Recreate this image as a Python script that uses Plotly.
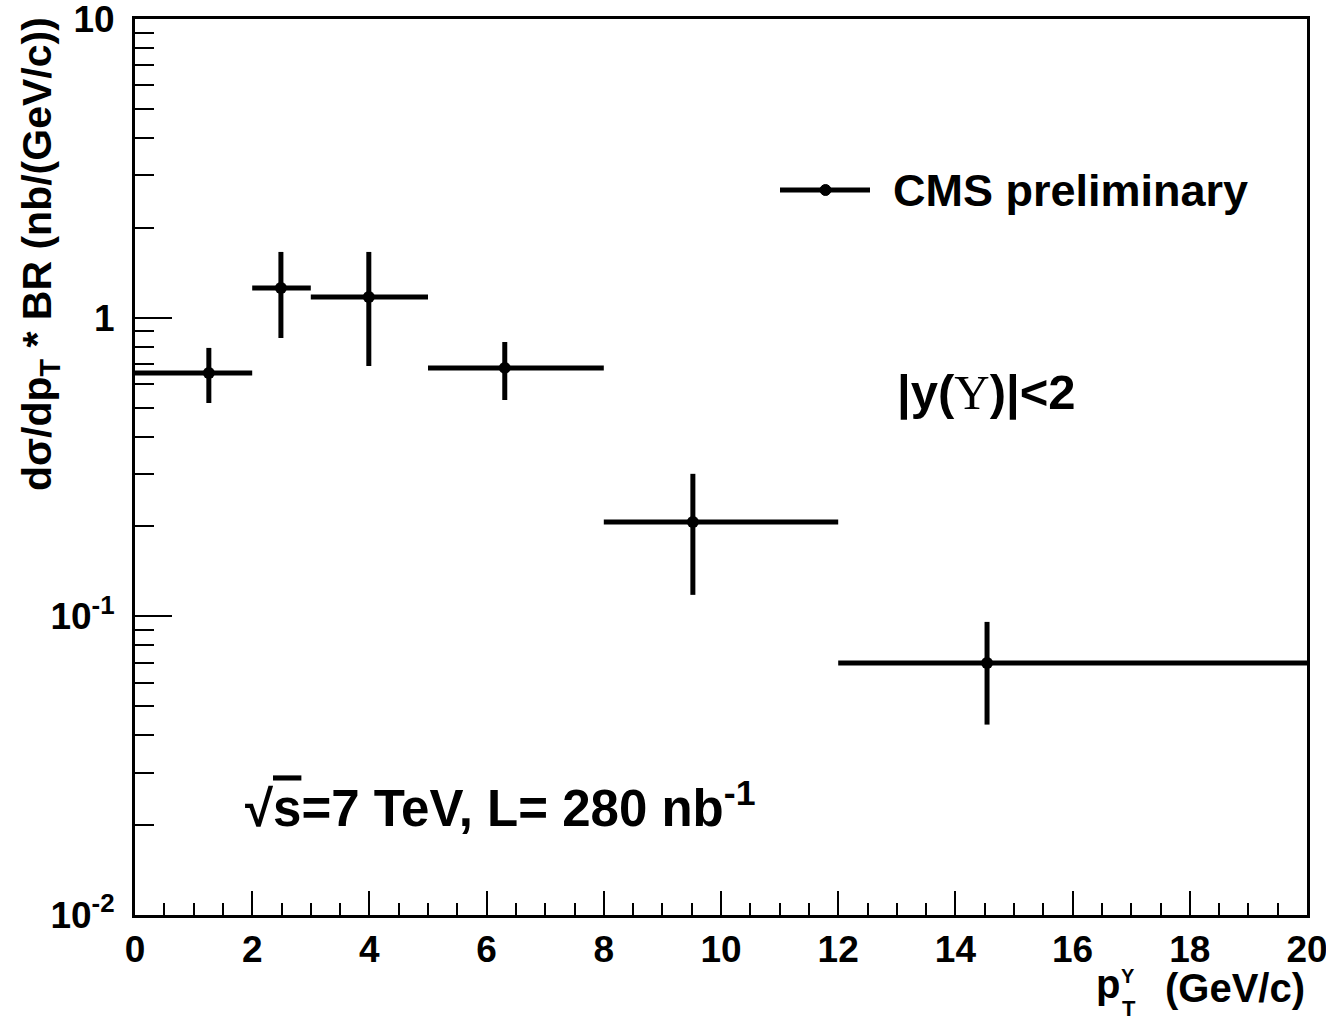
import plotly.graph_objects as go

# ---- data ----
bin_lo = [0, 2, 3, 5, 8, 12]
bin_hi = [2, 3, 5, 8, 12, 20]
pt_mean = [1.26, 2.49, 3.99, 6.31, 9.52, 14.54]
xsec = [0.653, 1.257, 1.173, 0.679, 0.207, 0.0698]
xsec_hi = [0.792, 1.66, 1.66, 0.829, 0.300, 0.0958]
xsec_lo = [0.518, 0.855, 0.689, 0.530, 0.118, 0.0434]

ytick_vals = [0.01, 0.1, 1, 10]
ytick_text = ["10<sup>-2</sup>", "10<sup>-1</sup>", "1", "10"]

FONT = "Liberation Sans"
W, H = 1326, 1017
L, R, T, B = 135, 1307, 19, 915


def xp(px):
    return (px - L) / (R - L)


def yp(py):
    return (B - py) / (B - T)


fig = go.Figure()
fig.add_trace(go.Scatter(
    x=pt_mean, y=xsec, mode="markers",
    marker=dict(color="black", size=12),
    error_x=dict(type="data", symmetric=False,
                 array=[h - x for h, x in zip(bin_hi, pt_mean)],
                 arrayminus=[x - l for l, x in zip(bin_lo, pt_mean)],
                 thickness=5, width=0, color="black"),
    error_y=dict(type="data", symmetric=False,
                 array=[h - y for h, y in zip(xsec_hi, xsec)],
                 arrayminus=[y - l for l, y in zip(xsec_lo, xsec)],
                 thickness=5, width=0, color="black"),
    name="CMS preliminary", showlegend=False,
))

minor_y = [m * 10 ** e for e in range(-2, 1) for m in range(2, 10)]

fig.update_layout(
    width=W, height=H,
    margin=dict(l=L, r=W - R, t=T, b=H - B, pad=0),
    plot_bgcolor="white", paper_bgcolor="white",
    font=dict(family=FONT, color="black", weight="bold"),
    xaxis=dict(range=[0, 20], showline=True, linecolor="black", linewidth=3,
               mirror=True, ticks="inside", ticklen=24, tickwidth=2,
               tickcolor="black", tick0=0, dtick=2, showgrid=False,
               zeroline=False, ticklabelstandoff=0, ticklabeloverflow="allow",
               automargin=False,
               tickfont=dict(size=37, family=FONT, weight="bold"),
               minor=dict(dtick=0.5, ticks="inside", ticklen=12,
                          tickwidth=2, tickcolor="black", showgrid=False)),
    yaxis=dict(type="log", range=[-2, 1], showline=True, linecolor="black",
               linewidth=3, mirror=True, ticks="inside", ticklen=37,
               tickwidth=2, tickcolor="black", tickvals=ytick_vals,
               ticktext=ytick_text, showgrid=False, zeroline=False,
               ticklabelstandoff=10, ticklabeloverflow="allow",
               automargin=False,
               tickfont=dict(size=37, family=FONT, weight="bold"),
               minor=dict(tickvals=minor_y, ticks="inside", ticklen=19,
                          tickwidth=2, tickcolor="black", showgrid=False)),
)

ann = []
# y-axis title
ann.append(dict(text="dσ/dp<sub>T</sub> * BR (nb/(GeV/c))", textangle=-90,
                x=xp(40), y=yp(15), xanchor="center", yanchor="top",
                font=dict(size=41, family=FONT, weight="bold")))
# x-axis title pieces
ann.append(dict(text="(GeV/c)", x=xp(1307), y=yp(988), xanchor="right",
                yanchor="middle", font=dict(size=40, family=FONT, weight="bold")))
ann.append(dict(text="p", x=xp(1122), y=yp(984), xanchor="right",
                yanchor="middle", font=dict(size=40, family=FONT, weight="bold")))
ann.append(dict(text="Υ", x=xp(1128), y=yp(976), xanchor="center",
                yanchor="middle", font=dict(size=20, family=FONT, weight="bold")))
ann.append(dict(text="T", x=xp(1129), y=yp(1008), xanchor="center",
                yanchor="middle", font=dict(size=22, family=FONT, weight="bold")))
# legend text
ann.append(dict(text="CMS preliminary", x=xp(891), y=yp(190), xanchor="left",
                yanchor="middle", font=dict(size=45, family=FONT, weight="bold")))
# rapidity text
ann.append(dict(text="|y(<span style='font-family:Liberation Serif;font-weight:normal'>Υ</span>)|<2",
                x=xp(895), y=yp(392), xanchor="left", yanchor="middle",
                font=dict(size=49, family=FONT, weight="bold")))
# energy / lumi text
ann.append(dict(text="√<span style='text-decoration:overline'>s</span>=7 TeV, L= 280 nb<sup>-1</sup>",
                x=xp(243), y=yp(805), xanchor="left", yanchor="middle",
                font=dict(size=51, family=FONT, weight="bold")))
for a in ann:
    a.update(xref="paper", yref="paper", showarrow=False)
fig.update_layout(annotations=ann)

# legend key (line with dot)
fig.add_shape(type="line", xref="paper", yref="paper",
              x0=xp(780), x1=xp(870), y0=yp(190), y1=yp(190),
              line=dict(color="black", width=5))
fig.add_shape(type="circle", xref="paper", yref="paper",
              x0=xp(820), x1=xp(831), y0=yp(184.5), y1=yp(195.5),
              fillcolor="black", line=dict(color="black", width=1))

fig.write_html("out.html")
